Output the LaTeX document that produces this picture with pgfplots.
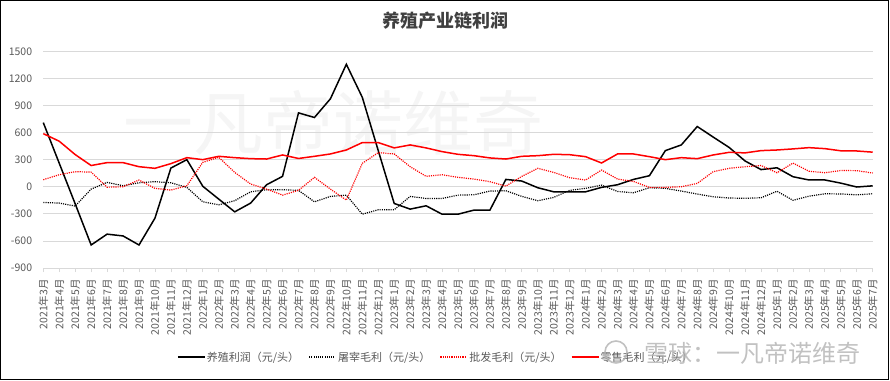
\documentclass[border=0pt]{standalone}
\usepackage{pgfplots}
\pgfplotsset{compat=1.18}
\usepackage{pgfplotstable}
\usepackage{fontspec}
\setmainfont{Noto Sans CJK SC}
\definecolor{txt}{HTML}{595959}
\definecolor{gridc}{HTML}{D9D9D9}
\definecolor{ttl}{HTML}{404040}
\definecolor{wm}{HTML}{F5F5F5}
\definecolor{rd}{HTML}{FF0000}
\newcommand{\solidimg}[1]{\textcolor{#1}{\rule[-0.75pt]{27pt}{1.5pt}}}
\newcommand{\dotimg}[1]{\textcolor{#1}{\hbox to 27pt{\leaders\hbox{\rule[-0.6pt]{1.1pt}{1.2pt}\kern1.1pt}\hfill}}}

\pgfplotstableread{
i a b c d
0 710 -174 78 588
1 260 -181 133 504
2 -190 -214 167 356
3 -645 -26 162 235
4 -525 48 -5 267
5 -545 11 0 267
6 -645 44 74 222
7 -348 56 -18 204
8 207 44 -37 256
9 300 -7 11 322
10 5 -167 270 300
11 -137 -200 326 337
12 -278 -155 159 322
13 -181 -56 30 311
14 22 -33 -26 307
15 115 -33 -93 352
16 818 -40 -40 313
17 767 -167 104 337
18 974 -107 -26 363
19 1356 -93 -148 407
20 990 -304 259 489
21 400 -255 378 489
22 -185 -255 363 430
23 -248 -107 222 463
24 -211 -130 115 430
25 -304 -130 133 389
26 -304 -93 104 359
27 -259 -89 85 344
28 -259 -48 56 319
29 81 -44 7 307
30 63 -107 115 337
31 -11 -155 204 344
32 -56 -118 159 359
33 -56 -40 100 355
34 -56 -18 74 333
35 -7 18 185 263
36 22 -52 85 363
37 81 -67 59 363
38 122 -11 -7 333
39 400 -18 -7 300
40 463 -48 0 322
41 667 -81 37 311
42 550 -111 167 352
43 435 -125 204 381
44 285 -128 222 375
45 190 -122 235 400
46 210 -50 155 407
47 111 -150 262 419
48 75 -105 172 433
49 75 -78 155 422
50 40 -80 180 398
51 -3 -90 178 396
52 10 -78 152 383
}\datatable

\begin{document}
\begin{tikzpicture}[x=1pt,y=1pt]
\path[use as bounding box] (0,0) rectangle (890,380);
\node[font=\fontsize{70}{72}\selectfont, text=wm] at (333,257) {一凡帝诺维奇};
\begin{axis}[
  at={(43.3pt,112pt)}, anchor=south west,
  scale only axis, width=829.4pt, height=216.7pt,
  xmin=0, xmax=52, ymin=-900, ymax=1500,
  ytick={-900,-600,...,1500},
  xtick={0,...,52},
  xticklabels={2021年3月,2021年4月,2021年5月,2021年6月,2021年7月,2021年8月,2021年9月,2021年10月,2021年11月,2021年12月,
    2022年1月,2022年2月,2022年3月,2022年4月,2022年5月,2022年6月,2022年7月,2022年8月,2022年9月,2022年10月,2022年11月,2022年12月,
    2023年1月,2023年2月,2023年3月,2023年4月,2023年5月,2023年6月,2023年7月,2023年8月,2023年9月,2023年10月,2023年11月,2023年12月,
    2024年1月,2024年2月,2024年3月,2024年4月,2024年5月,2024年6月,2024年7月,2024年8月,2024年9月,2024年10月,2024年11月,2024年12月,
    2025年1月,2025年2月,2025年3月,2025年4月,2025年5月,2025年6月,2025年7月},
  axis x line*=bottom, axis y line*=left,
  y axis line style={draw=none}, ytick style={draw=none},
  x axis line style={color=gridc, line width=0.8pt, -},
  xtick style={color=gridc, line width=0.8pt},
  major tick length=4pt, tick align=outside,
  ymajorgrids, grid style={color=gridc, line width=0.8pt},
  ticklabel style={font=\fontsize{10.5}{12}\selectfont, text=txt},
  /pgf/number format/assume math mode=true,
  /pgf/number format/1000 sep={},
  yticklabel style={inner sep=0pt, xshift=-7pt},
  xticklabel style={yshift=-7pt, rotate=90, anchor=east, inner sep=0pt},
  clip=false,
  legend style={at={(0.474,-0.413)}, anchor=center, draw=none, fill=none,
    legend columns=4, font=\fontsize{11}{13}\selectfont,
    /tikz/every even column/.append style={column sep=8pt}},
  legend cell align=left,
]
\addplot[color=black, line width=1.5pt,
  legend image code/.code={\node[inner sep=0pt, anchor=west] at (0pt,0pt) {\solidimg{black}};}]
  table[x=i, y=a] {\datatable};
\addlegendentry{\textcolor{txt}{养殖利润（元/头）}}
\addplot[color=black, line width=1.2pt, dash pattern=on 1.1pt off 1.1pt,
  legend image code/.code={\node[inner sep=0pt, anchor=west] at (0pt,0pt) {\dotimg{black}};}]
  table[x=i, y=b] {\datatable};
\addlegendentry{\textcolor{txt}{屠宰毛利（元/头）}}
\addplot[color=rd, line width=1.2pt, dash pattern=on 1.1pt off 1.1pt,
  legend image code/.code={\node[inner sep=0pt, anchor=west] at (0pt,0pt) {\dotimg{rd}};}]
  table[x=i, y=c] {\datatable};
\addlegendentry{\textcolor{txt}{批发毛利（元/头）}}
\addplot[color=rd, line width=1.5pt,
  legend image code/.code={\node[inner sep=0pt, anchor=west] at (0pt,0pt) {\solidimg{rd}};}]
  table[x=i, y=d] {\datatable};
\addlegendentry{\textcolor{txt}{零售毛利（元/头）}}
\end{axis}
\node[font=\bfseries\fontsize{18}{20}\selectfont, text=ttl] at (445,359) {养殖产业链利润};
\draw[black!30, line width=1.6pt, opacity=0.8] (616,28) circle (11);
\node[font=\fontsize{24}{26}\selectfont, text=black!30, opacity=0.8, anchor=east] at (864,27) {雪球：一凡帝诺维奇};
\draw[line width=1.3pt] (0.65,0.65) rectangle (888.3,379.35);
\end{tikzpicture}
\end{document}
